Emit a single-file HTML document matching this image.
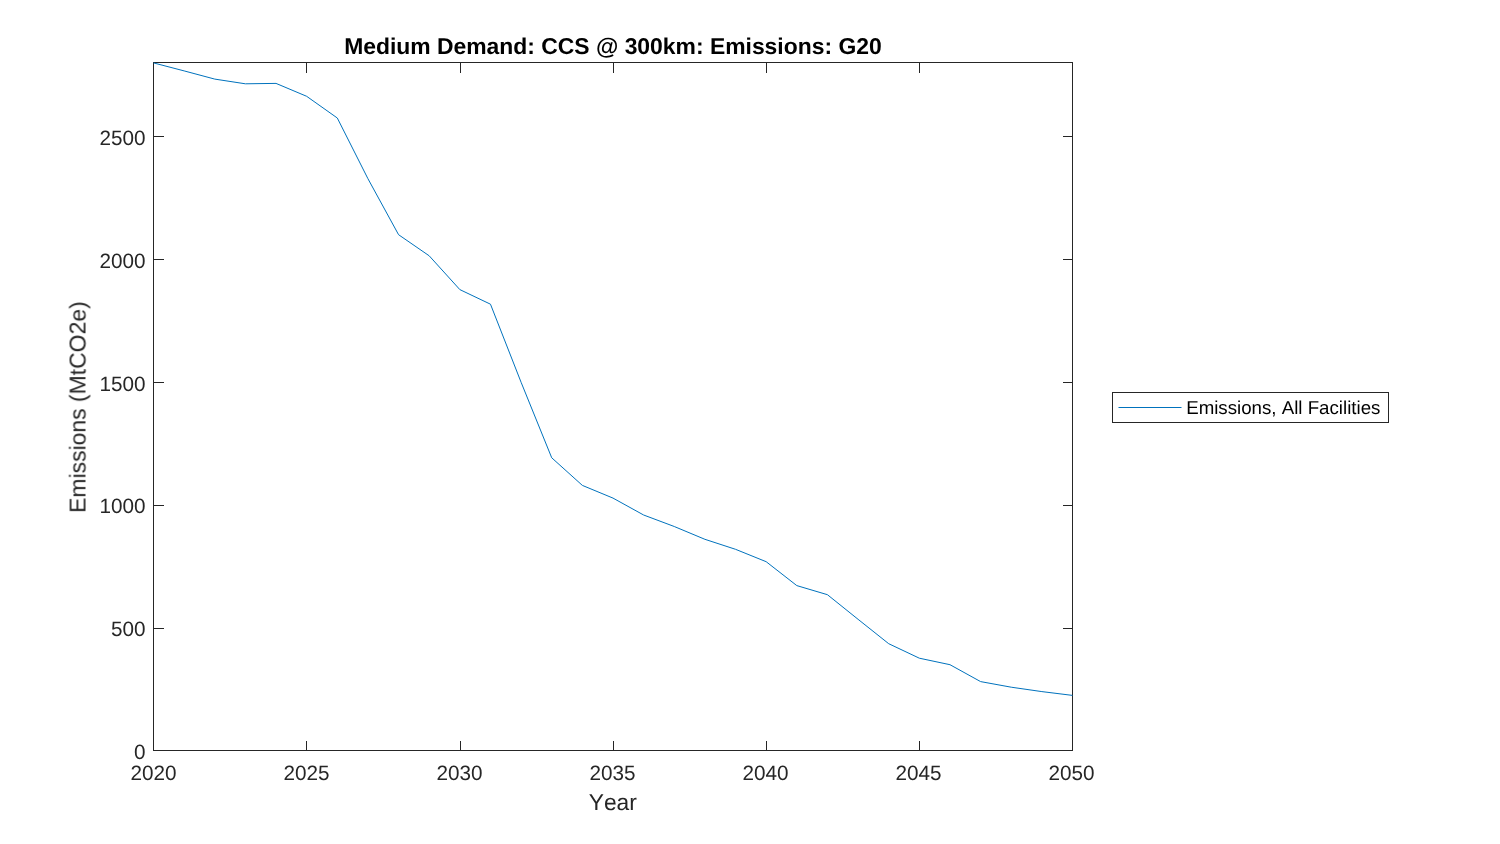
<!DOCTYPE html>
<html lang="en">
<head>
<meta charset="utf-8">
<title>Medium Demand: CCS @ 300km: Emissions: G20</title>
<style>
html,body{margin:0;padding:0;background:#fff;}
body{width:1500px;height:844px;overflow:hidden;}
svg{display:block;font-family:"Liberation Sans",Arial,Helvetica,sans-serif;}
text{text-rendering:geometricPrecision;font-kerning:none;}
.tx{filter:grayscale(1);}
</style>
</head>
<body>
<svg width="1500" height="844" viewBox="0 0 1500 844">
<rect x="0" y="0" width="1500" height="844" fill="#fff"/>
<rect x="153.5" y="62.5" width="919.0" height="688.0" fill="#fff" stroke="#262626" stroke-width="1"/>
<path d="M306.5 751V741M306.5 62V73M460.5 751V741M460.5 62V73M613.5 751V741M613.5 62V73M766.5 751V741M766.5 62V73M919.5 751V741M919.5 62V73M153 628.5H164M1073 628.5H1063M153 505.5H164M1073 505.5H1063M153 382.5H164M1073 382.5H1063M153 259.5H164M1073 259.5H1063M153 136.5H164M1073 136.5H1063" stroke="#262626" stroke-width="1" fill="none"/>
<polyline points="153.50,62.90 184.13,70.90 214.77,79.10 245.40,83.80 276.03,83.40 306.67,96.30 337.30,118.00 367.93,178.70 398.57,234.70 429.20,255.80 459.83,289.60 490.47,304.20 521.10,382.30 551.73,457.80 582.37,485.40 613.00,498.10 643.63,515.00 674.27,526.50 704.90,539.30 735.53,549.30 766.17,561.70 796.80,585.60 827.43,594.70 858.07,619.30 888.70,643.70 919.33,658.20 949.97,664.70 980.60,681.60 1011.23,687.20 1041.87,691.60 1072.50,695.40" fill="none" stroke="#0072BD" stroke-width="1" stroke-linejoin="round"/>
<g class="tx">
<g font-size="20.7" fill="#262626">
<text x="153.5" y="780.1" text-anchor="middle">2020</text>
<text x="306.5" y="780.1" text-anchor="middle">2025</text>
<text x="459.5" y="780.1" text-anchor="middle">2030</text>
<text x="612.5" y="780.1" text-anchor="middle">2035</text>
<text x="765.5" y="780.1" text-anchor="middle">2040</text>
<text x="918.5" y="780.1" text-anchor="middle">2045</text>
<text x="1071.5" y="780.1" text-anchor="middle">2050</text>
<text x="145.5" y="759.00" text-anchor="end">0</text>
<text x="145.5" y="635.93" text-anchor="end">500</text>
<text x="145.5" y="512.93" text-anchor="end">1000</text>
<text x="145.5" y="391.00" text-anchor="end">1500</text>
<text x="145.5" y="268.00" text-anchor="end">2000</text>
<text x="145.5" y="145.00" text-anchor="end">2500</text>
</g>
<text x="612.8" y="810.2" font-size="22.8" fill="#262626" text-anchor="middle">Year</text>
<text transform="translate(85.5 407.15) rotate(-90)" font-size="22.95" fill="#262626" text-anchor="middle">Emissions (MtCO2e)</text>
<text x="612.9" y="54" font-size="22.9" font-weight="bold" fill="#000" text-anchor="middle">Medium Demand: CCS @ 300km: Emissions: G20</text>
</g>
<rect x="1112.5" y="392.5" width="276" height="30" fill="#fff" stroke="#262626" stroke-width="1"/>
<line x1="1118.5" y1="407.5" x2="1181.5" y2="407.5" stroke="#0072BD" stroke-width="1.1"/>
<text class="tx" x="1186.2" y="413.6" font-size="18.7" fill="#000">Emissions, All Facilities</text>
</svg>
</body>
</html>
